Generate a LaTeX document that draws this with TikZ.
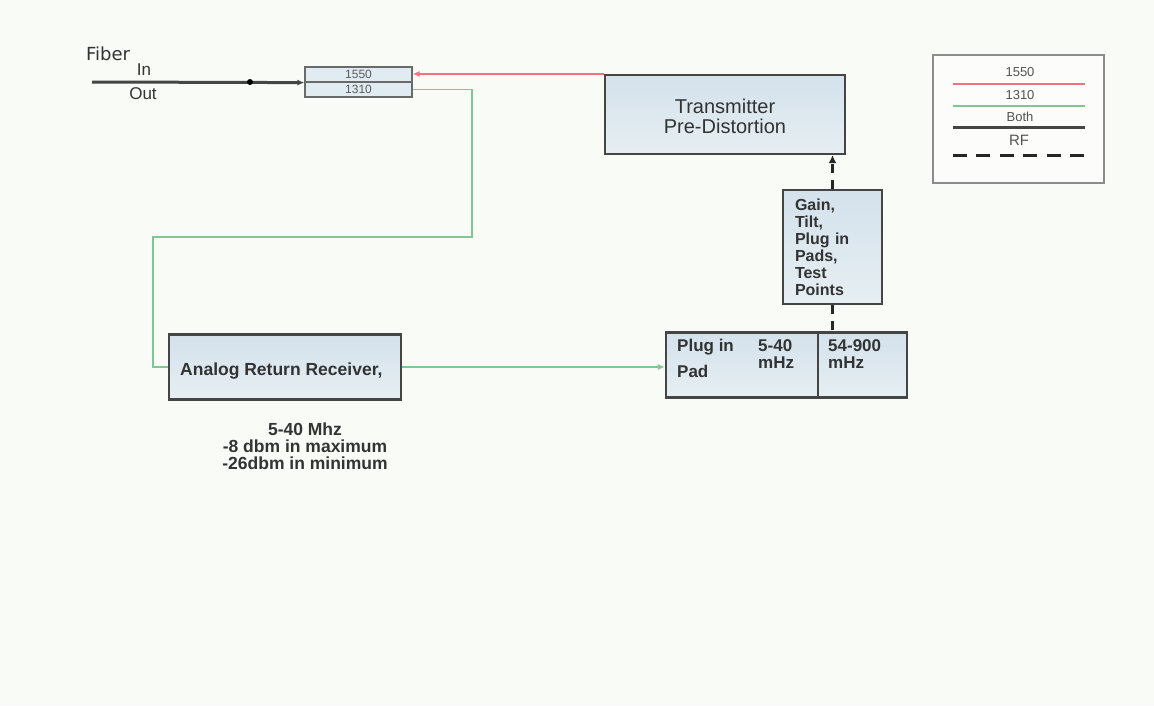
\documentclass[tikz,border=0pt]{standalone}
\usepackage{fontspec}
\setmainfont{Liberation Sans}
\newfontfamily\fiberfont{DejaVu Sans}
\usetikzlibrary{arrows.meta,calc}
\definecolor{bgc}{HTML}{F8FBF6}
\definecolor{boxtop}{HTML}{D4E2EC}
\definecolor{boxbot}{HTML}{E6EEF2}
\definecolor{edge}{HTML}{454545}
\definecolor{txt}{HTML}{333333}
\definecolor{redl}{HTML}{EC7480}
\definecolor{greenl}{HTML}{7FC895}
\tikzset{
  blk/.style={draw=edge, line width=2.2pt, top color=boxtop, bottom color=boxbot, inner sep=0pt},
  smallbox/.style={draw=edge!80, line width=1.2pt, fill=boxtop!70, inner sep=0pt, minimum width=107pt, minimum height=15pt, font=\fontsize{12}{12}\selectfont, text=txt!80},
  bt/.style={font=\fontsize{17}{17}\selectfont\bfseries, text=txt, inner sep=0pt},
  rt/.style={font=\fontsize{17}{17}\selectfont, text=txt, inner sep=0pt},
  lt/.style={font=\fontsize{13}{13}\selectfont, text=txt!85, inner sep=0pt},
  redline/.style={draw=redl, line width=1.8pt},
  greenline/.style={draw=greenl, line width=1.8pt},
  bothline/.style={draw=edge, line width=3pt},
  rfline/.style={draw=black!85, line width=3pt, dash pattern=on 9pt off 7pt},
  tip/.style={-{Latex[length=7pt,width=6pt]}},
}
\begin{document}
\begin{tikzpicture}[x=1pt,y=-1pt]
\useasboundingbox (0,0) rectangle (1154,705);
\fill[bgc] (0,0) rectangle (1154,705);

% small splitter box
\node[smallbox] (s1550) at (358.5,74.5) {1550};
\node[smallbox] (s1310) at (358.5,89.5) {1310};

% fiber labels
\node[font=\fiberfont\fontsize{18}{18}\selectfont, text=txt, inner sep=0pt] (fiber) at (108,54) {Fiber};
\node[rt] (in) at (144,70) {In};
\node[rt] (out) at (143,94) {Out};

% main boxes
\node[blk, minimum width=240pt, minimum height=79pt] (trans) at (725,114.5) {};
\node[rt, font=\fontsize{20}{20}\selectfont, align=center] (transtxt) at (725,116) {Transmitter\\Pre-Distortion};

\node[blk, minimum width=99pt, minimum height=114pt, text width=75pt, inner xsep=12pt, align=left, font=\fontsize{16}{17}\selectfont\bfseries, text=txt] (gain) at (832.5,247) {Gain,\\Tilt,\\Plug in\\Pads,\\Test\\Points};

\node[blk, minimum width=241pt, minimum height=65pt] (plug) at (786.5,365) {};
\coordinate (divtop) at (818,332.5);
\coordinate (divbot) at (818,397.5);
\draw[edge, line width=1.2pt] (divtop) -- (divbot);
\node[bt, anchor=base west] (plugin) at (677,351) {Plug in};
\node[bt, anchor=base west] (pad) at (677,377) {Pad};
\node[bt, anchor=base west] (f540) at (758,351) {5-40};
\node[bt, anchor=base west] (mhz1) at (758,368) {mHz};
\node[bt, anchor=base west] (f54900) at (828,351) {54-900};
\node[bt, anchor=base west] (mhz2) at (828,368) {mHz};

\node[blk, minimum width=232pt, minimum height=65pt] (analog) at (285,367) {};
\node[bt, font=\fontsize{17.5}{17}\selectfont\bfseries, anchor=west] (analogtxt) at (180,371) {Analog Return Receiver,};
\node[bt, align=center, font=\fontsize{17.5}{17}\selectfont\bfseries] (spec) at (305,446.5) {5-40 Mhz\\-8 dbm in maximum\\-26dbm in minimum};

% connectors
\coordinate (fstart) at (92,82);
\coordinate (fdot) at (250,82);
\draw[bothline, tip] (fstart) -- (s1550.south west);
\fill[black] (fdot) circle (3pt);

\draw[redline, tip] (trans.north west) -- (trans.north west -| s1550.east);

\coordinate (g1) at (472,237);
\coordinate (g2) at (153,237);
\draw[greenline] (s1310.east) -| (g1) -- (g2) |- (analog.west);
\draw[greenline, tip] (analog.east) -- (analog.east -| plug.west);

\draw[rfline, -{Latex[length=8pt,width=8pt]}] (gain.north) -- (gain.north |- trans.south);
\draw[rfline] (gain.south) -- (gain.south |- plug.north);

% legend
\node[draw=black!45, line width=1.3pt, fill=white!60!bgc, minimum width=171pt, minimum height=128pt, inner sep=0pt] (legend) at (1018.5,119) {};
\node[lt] (l1550) at (1020,72) {1550};
\node[lt] (l1310) at (1020,95) {1310};
\node[lt] (lboth) at (1020,117) {Both};
\node[lt, font=\fontsize{15}{15}\selectfont] (lrf) at (1019,140) {RF};
\coordinate (la1) at (953,84);  \coordinate (lb1) at (1085,84);
\coordinate (la2) at (953,106); \coordinate (lb2) at (1085,106);
\coordinate (la3) at (953,127); \coordinate (lb3) at (1085,127);
\coordinate (la4) at (953,155); \coordinate (lb4) at (1084,155);
\draw[redline] (la1) -- (lb1);
\draw[greenline] (la2) -- (lb2);
\draw[bothline] (la3) -- (lb3);
\draw[rfline, dash pattern=on 14pt off 9.4pt] (la4) -- (lb4);
\end{tikzpicture}
\end{document}
